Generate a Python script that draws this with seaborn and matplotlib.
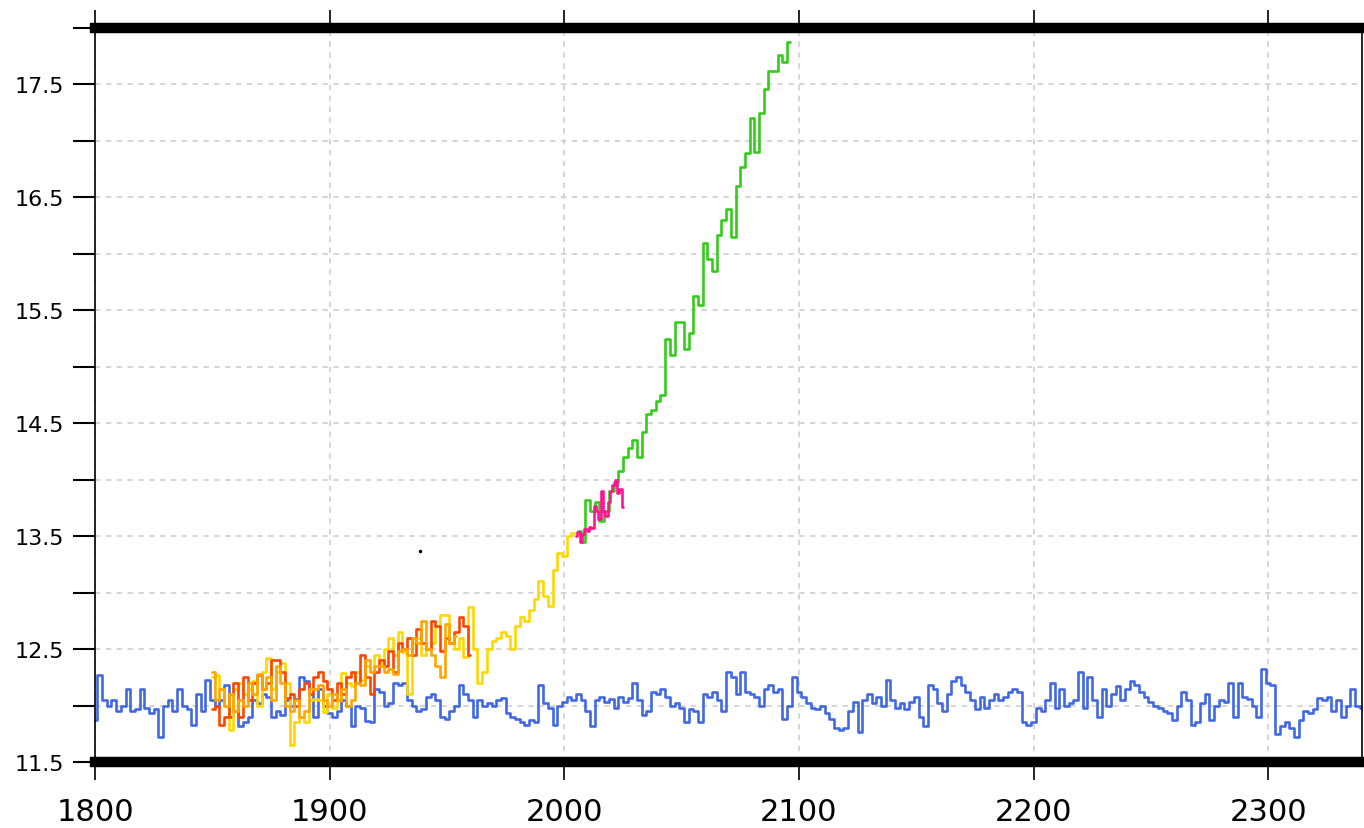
import numpy as np
import pandas as pd
import seaborn as sns
import matplotlib
matplotlib.use("Agg")
import matplotlib.pyplot as plt

# ------- data (2-year steps unless noted) -------

control_years = list(range(1800, 2341, 2))
control_values = [
    11.87, 12.27, 12.05, 12.0, 12.05, 11.95, 12.0, 12.15, 11.95, 11.97,
    12.15, 11.98, 11.93, 11.97, 11.72, 12.0, 12.05, 11.95, 12.15, 12.0,
    11.97, 11.83, 12.1, 11.95, 12.23, 12.05, 12.0, 12.05, 12.18, 11.9,
    11.95, 11.82, 11.85, 11.9, 12.05, 12.02, 12.1, 12.08, 11.9, 11.95,
    11.92, 12.05, 12.0, 12.06, 12.25, 12.22, 12.1, 11.9, 12.15, 12.0,
    11.93, 11.9, 11.95, 12.05, 12.0, 11.82, 12.0, 11.98, 11.86, 11.85,
    12.15, 12.12, 12.0, 12.02, 12.2, 12.18, 12.2, 12.05, 12.0, 11.95,
    11.97, 12.08, 12.1, 12.05, 11.9, 11.88, 11.95, 12.0, 12.18, 12.1,
    12.05, 11.9, 12.05, 12.0, 12.02, 12.0, 12.05, 12.07, 11.93, 11.9,
    11.88, 11.85, 11.83, 11.87, 11.85, 12.18, 12.02, 11.98, 11.83, 12.0,
    12.03, 12.08, 12.05, 12.1, 12.05, 11.95, 11.82, 12.05, 12.08, 12.03,
    12.06, 11.98, 12.08, 12.03, 12.07, 12.2, 12.05, 11.92, 11.95, 12.12,
    12.1, 12.15, 12.08, 12.0, 12.02, 11.98, 11.85, 11.97, 11.95, 11.85,
    12.1, 12.08, 12.12, 12.05, 11.95, 12.3, 12.25, 12.1, 12.3, 12.12,
    12.1, 12.08, 12.0, 12.15, 12.18, 12.12, 12.15, 11.88, 12.0, 12.25,
    12.12, 12.08, 12.02, 11.98, 11.97, 12.0, 11.93, 11.88, 11.8, 11.78,
    11.8, 11.95, 12.03, 11.77, 12.05, 12.1, 12.02, 12.08, 12.0, 12.23,
    12.05, 11.98, 12.02, 11.97, 12.03, 12.08, 11.9, 11.82, 12.18, 12.15,
    12.02, 11.95, 12.1, 12.22, 12.25, 12.18, 12.12, 12.05, 11.97, 12.08,
    11.98, 12.05, 12.1, 12.05, 12.08, 12.12, 12.15, 12.12, 11.85, 11.83,
    11.85, 11.98, 11.95, 12.05, 12.2, 11.98, 12.15, 12.0, 12.02, 12.05,
    12.3, 11.98, 12.25, 12.05, 11.9, 12.15, 12.0, 12.1, 12.17, 12.05,
    12.15, 12.22, 12.18, 12.12, 12.08, 12.03, 12.0, 11.98, 11.95, 11.93,
    11.87, 12.0, 12.12, 12.05, 11.83, 11.85, 12.02, 12.1, 11.87, 12.0,
    12.05, 12.03, 12.2, 11.9, 12.2, 12.08, 12.06, 12.0, 11.9, 12.32,
    12.2, 12.18, 11.75, 11.82, 11.85, 11.8, 11.72, 11.87, 11.95, 11.93,
    11.97, 12.07, 12.05, 12.08, 11.95, 12.05, 11.9, 12.0, 12.15, 12.0,
    11.98,
]

hist_a_years = list(range(1850, 2005, 2))  # gold
hist_a_values = [
    12.25, 12.27, 12.15, 12.0, 11.78, 12.15, 12.2, 12.1, 12.15, 12.22,
    12.0, 12.3, 12.42, 12.15, 12.3, 12.38, 12.2, 11.65, 11.85, 11.9,
    11.85, 12.05, 12.06, 12.05, 11.94, 12.1, 11.98, 12.05, 12.29, 12.2,
    12.17, 12.3, 12.23, 12.35, 12.3, 12.45, 12.38, 12.5, 12.6, 12.45,
    12.65, 12.47, 12.1, 12.55, 12.6, 12.45, 12.5, 12.55, 12.7, 12.8,
    12.8, 12.55, 12.5, 12.6, 12.43, 12.87, 12.5, 12.2, 12.3, 12.5,
    12.57, 12.6, 12.65, 12.62, 12.5, 12.7, 12.78, 12.75, 12.85, 12.94,
    13.1, 12.97, 12.88, 13.2, 13.35, 13.32, 13.5, 13.53,
]

hist_b_years = list(range(1850, 1961, 2))  # orange-red
hist_b_values = [
    11.97, 12.0, 11.83, 11.9, 12.1, 12.2, 11.9, 12.25, 12.05, 12.2,
    12.27, 12.15, 12.2, 12.4, 12.4, 12.3, 12.07, 12.1, 12.0, 12.15,
    12.2, 12.1, 12.25, 12.3, 12.22, 12.15, 12.05, 12.2, 12.1, 12.25,
    12.3, 12.2, 12.45, 12.25, 12.1, 12.3, 12.4, 12.35, 12.48, 12.3,
    12.55, 12.5, 12.6, 12.45, 12.68, 12.55, 12.5, 12.75, 12.7, 12.48,
    12.6, 12.55, 12.65, 12.78, 12.7, 12.45,
]

hist_c_years = list(range(1850, 1955, 2))  # orange
hist_c_values = [
    12.3, 12.05, 12.15, 12.0, 12.1, 11.95, 12.05, 12.0, 12.2, 12.1,
    12.28, 12.15, 12.25, 12.05, 12.35, 12.2, 12.0, 11.95, 12.05, 11.9,
    11.95, 12.15, 12.15, 12.18, 12.05, 12.0, 12.1, 12.05, 12.15, 12.0,
    12.05, 12.2, 12.18, 12.4, 12.3, 12.35, 12.35, 12.3, 12.32, 12.28,
    12.48, 12.5, 12.45, 12.6, 12.55, 12.75, 12.5, 12.45, 12.35, 12.25,
    12.72, 12.55, 12.62,
]

recent_years = list(range(2005, 2026))  # annual, pink
recent_values = [
    13.5, 13.54, 13.45, 13.52, 13.56, 13.55, 13.58, 13.57, 13.77, 13.72,
    13.65, 13.9, 13.72, 13.68, 13.8, 13.9, 13.95, 14.0, 13.88, 13.92,
    13.76,
]

future_years = list(range(2006, 2097, 2))  # green
future_values = [
    13.55, 13.45, 13.82, 13.72, 13.8, 13.63, 13.72, 13.9, 13.98, 14.08,
    14.2, 14.28, 14.35, 14.2, 14.42, 14.58, 14.62, 14.7, 14.75, 15.25,
    15.1, 15.4, 15.4, 15.16, 15.3, 15.63, 15.55, 16.1, 15.95, 15.85,
    16.17, 16.3, 16.4, 16.15, 16.6, 16.77, 16.89, 17.2, 16.9, 17.25,
    17.46, 17.62, 17.62, 17.76, 17.7, 17.88,
]

dot_year = [1938.4]
dot_value = [13.37]

x_ticks = [1800, 1900, 2000, 2100, 2200, 2300]
y_ticks = [11.5, 12.0, 12.5, 13.0, 13.5, 14.0, 14.5, 15.0, 15.5, 16.0, 16.5, 17.0, 17.5, 18.0]
y_labels = ["11.5", "", "12.5", "", "13.5", "", "14.5", "", "15.5", "", "16.5", "", "17.5", ""]

# ------- plot -------

sns.set_style("white")
plt.rcParams['font.family'] = ['DejaVu Sans']

W, H = 1364, 829
fig = plt.figure(figsize=(W / 100, H / 100), dpi=100)
ax = fig.add_axes([95 / W, 1 - 763 / H, (1362 - 95) / W, (763 - 29) / H])

series = [
    (control_years, control_values, "#4169e1"),
    (hist_a_years, hist_a_values, "#ffd700"),
    (hist_b_years, hist_b_values, "#ff4500"),
    (hist_c_years, hist_c_values, "#ffa500"),
    (future_years, future_values, "#33cc1a"),
    (recent_years, recent_values, "#ff1493"),
]
for yrs, vals, col in series:
    df = pd.DataFrame({"year": yrs, "temp": vals})
    sns.lineplot(data=df, x="year", y="temp", color=col, linewidth=1.9,
                 drawstyle="steps-mid", errorbar=None, ax=ax)

ax.plot(dot_year, dot_value, "o", color="black", markersize=1.5)

ax.set_xlim(1800, 2340)
ax.set_ylim(11.5, 18.0)
ax.set_xticks(x_ticks)
ax.set_yticks(y_ticks)
ax.set_yticklabels(y_labels)
ax.set_xlabel("")
ax.set_ylabel("")

ax.grid(True, linestyle=(0, (3, 3)), color="#d2d2d2", linewidth=1.3)
ax.set_axisbelow(True)

ax.tick_params(axis="x", direction="out", length=13, width=1.2, labelsize=22,
               pad=12, top=True, bottom=True, colors="black")
ax.tick_params(axis="y", direction="out", length=16, width=1.5, labelsize=16,
               pad=6, left=True, right=False, colors="black")

for side in ["left", "right"]:
    ax.spines[side].set_linewidth(1.2)
    ax.spines[side].set_color("black")
for side in ["top", "bottom"]:
    ax.spines[side].set_linewidth(7.5)
    ax.spines[side].set_color("black")

fig.savefig("out.png", dpi=100)
